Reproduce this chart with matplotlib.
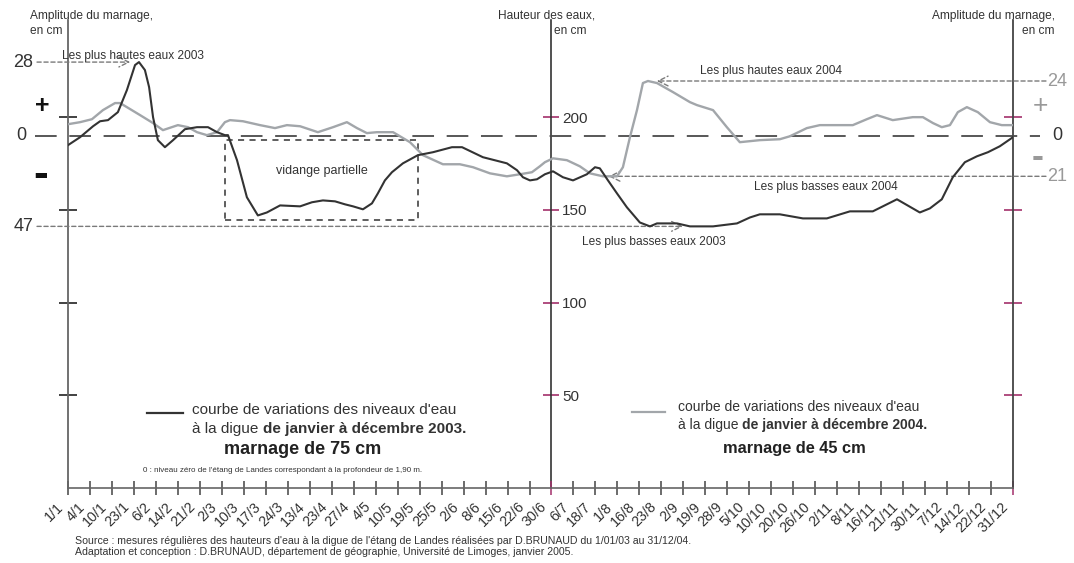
import matplotlib
matplotlib.use('Agg')
import matplotlib.pyplot as plt
import matplotlib.transforms as mtransforms
from matplotlib.patches import Rectangle
from matplotlib.lines import Line2D

plt.rcParams['font.family'] = ['Liberation Sans', 'DejaVu Sans']

# ---------------- data ----------------
dates = ["1/1", "4/1", "10/1", "23/1", "6/2", "14/2", "21/2", "2/3", "10/3", "17/3",
         "24/3", "13/4", "23/4", "27/4", "4/5", "10/5", "19/5", "25/5", "2/6", "8/6",
         "15/6", "22/6", "30/6", "6/7", "18/7", "1/8", "16/8", "23/8", "2/9", "19/9",
         "28/9", "5/10", "10/10", "20/10", "26/10", "2/11", "8/11", "16/11", "21/11",
         "30/11", "7/12", "14/12", "22/12", "31/12"]

# x positions expressed in date-tick index units, y = water height (cm)
x2003 = [0, 0.55, 1.14, 1.46, 1.82, 2.27, 2.68, 3.05, 3.23, 3.5, 3.69, 3.87, 4.09, 4.41,
         4.78, 5.32, 5.87, 6.37, 6.78, 7.14, 7.28, 7.69, 8.14, 8.64, 9.05, 9.65, 10.56,
         11.1, 11.6, 12.15, 12.6, 12.97, 13.42, 13.83, 14.1, 14.42, 14.74, 15.24, 15.92,
         16.61, 17.47, 17.93, 18.88, 19.97, 20.43, 20.7, 21.02, 21.34, 21.7, 22.07, 22.52,
         22.98, 23.61, 23.98, 24.2, 24.57, 24.98, 25.43, 26.02, 26.48, 26.8, 27.71, 28.3,
         29.35, 30.44, 31.03, 31.48, 32.39, 33.44, 34.53, 35.58, 36.62, 37.72, 38.76,
         39.22, 39.76, 40.26, 40.81, 41.36, 41.86, 42.4, 43]
h2003 = [184.9, 189.2, 195.1, 197.8, 198.4, 202.7, 214.6, 228.1, 229.7, 225.4, 216.2,
         200.0, 187.6, 183.8, 187.6, 193.5, 194.6, 194.6, 191.9, 190.3, 190.3, 176.8,
         156.8, 147.0, 148.6, 152.4, 151.9, 154.1, 155.1, 154.6, 153.0, 151.9, 150.3,
         153.5, 158.9, 165.9, 170.3, 175.1, 179.5, 181.1, 183.8, 183.8, 178.4, 175.1,
         171.4, 167.6, 165.9, 166.5, 169.2, 170.8, 167.6, 165.9, 169.2, 173.0, 172.4,
         165.9, 158.9, 151.4, 143.2, 141.1, 142.7, 142.7, 141.1, 141.1, 142.7, 145.9,
         147.6, 147.6, 145.4, 145.4, 149.2, 149.2, 155.7, 148.6, 150.8, 155.7, 167.6,
         175.7, 178.9, 181.1, 184.3, 189.2]

x2004 = [0, 0.55, 1.09, 1.59, 2.14, 2.37, 2.68, 3.28, 3.87, 4.32, 5.0, 5.46, 5.87, 6.32,
         6.78, 7.14, 7.37, 7.96, 8.74, 9.42, 9.96, 10.56, 11.37, 12.06, 12.69, 13.15, 13.6,
         14.06, 14.79, 15.56, 16.15, 17.06, 17.83, 18.43, 19.2, 19.97, 20.56, 21.11, 21.47,
         21.7, 22.07, 22.7, 23.29, 23.75, 24.34, 24.98, 25.25, 25.57, 25.89, 26.16, 26.39,
         26.8, 27.53, 28.3, 28.62, 29.35, 29.98, 30.57, 31.48, 32.39, 32.85, 33.62, 34.21,
         35.71, 36.35, 36.81, 37.53, 38.44, 38.9, 39.36, 39.76, 40.13, 40.49, 40.9, 41.4,
         41.95, 42.49, 43]
h2004 = [196.2, 197.3, 198.9, 203.8, 207.6, 207.6, 205.4, 201.1, 196.8, 193.0, 195.7,
         194.6, 191.9, 190.3, 191.9, 197.3, 198.4, 197.8, 195.7, 194.1, 195.7, 195.1,
         191.9, 194.6, 197.3, 194.1, 191.4, 191.9, 191.9, 186.5, 179.5, 174.6, 174.6,
         173.0, 169.7, 168.1, 169.2, 170.3, 173.5, 175.7, 177.8, 176.8, 173.5, 169.7,
         168.1, 168.1, 173.0, 189.2, 203.8, 218.4, 219.5, 218.4, 213.5, 208.1, 206.5,
         203.8, 194.6, 186.5, 187.6, 188.1, 189.7, 194.1, 195.7, 195.7, 198.9, 201.1,
         198.4, 200.0, 200.0, 196.8, 194.6, 195.7, 202.7, 205.4, 202.7, 197.3, 195.7, 195.7]

zero_level = 190          # niveau zéro = 1,90 m
height_ticks = [50, 100, 150, 200]
amp_2003 = ["28", "47"]
amp_2004 = ["24", "21"]
vidange_x = (7.14, 15.92)
vidange_h = (144.3, 187.6)

# ---------------- figure ----------------
W, H = 1074, 563
fig = plt.figure(figsize=(W / 100, H / 100), dpi=100)
ax = fig.add_axes([68 / W, 75 / H, 945 / W, 468 / H])
ax.set_xlim(0, len(dates) - 1)
ax.set_ylim(0, 252.4)

DARK = '#333333'
GREY = '#a2a6aa'
PINK = '#a3306b'
REF = '#7a7a7a'


def fx(px):
    return px / W


def fy(py):
    return 1 - py / H


fig_x_data_y = mtransforms.blended_transform_factory(fig.transFigure, ax.transData)

ax.plot(x2003, h2003, color=DARK, lw=1.5, solid_joinstyle='round', zorder=5)
ax.plot(x2004, h2004, color=GREY, lw=1.7, solid_joinstyle='round', zorder=4)

# zero line (long dashes)
ax.axhline(zero_level, xmin=(35 - 68) / 945, xmax=(1040 - 68) / 945, clip_on=False,
           color='#4a4a4a', lw=1.3, dashes=(12, 7), zorder=3)

# spines
ax.spines['top'].set_visible(False)
ax.spines['left'].set_color('#666666')
ax.spines['left'].set_linewidth(1.3)
ax.spines['right'].set_color('#444444')
ax.spines['right'].set_linewidth(1.3)
ax.spines['bottom'].set_color('#666666')
ax.spines['bottom'].set_linewidth(1.2)

# y ticks on outer axes
ax.set_yticks(height_ticks)
ax.yaxis.set_ticks_position('both')
ax.tick_params(axis='y', direction='inout', length=13, width=1.2,
               labelleft=False, labelright=False)
for t in ax.yaxis.get_major_ticks():
    t.tick1line.set_markeredgecolor('#222222')
    t.tick2line.set_markeredgecolor(PINK)

# x ticks
ax.set_xticks(range(len(dates)))
ax.set_xticklabels(dates, rotation=45, ha='right', va='center',
                   rotation_mode='anchor', fontsize=10.3, color=DARK)
ax.tick_params(axis='x', direction='inout', length=10, width=1.1, color='#444444', pad=7)
offset = mtransforms.ScaledTranslation(-7 / 100, 0, fig.dpi_scale_trans)
for lab in ax.get_xticklabels():
    lab.set_transform(lab.get_transform() + offset)
xt = ax.xaxis.get_major_ticks()
xt[22].tick1line.set_markeredgecolor(PINK)
xt[-1].tick1line.set_markeredgecolor(PINK)

# middle axis (hauteur des eaux)
mid = ax.secondary_yaxis(22 / 43)
mid.set_yticks(height_ticks)
mid.tick_params(direction='inout', length=11, width=1.2, color=PINK,
                labelsize=11, labelcolor=DARK, pad=2)
for s in ['left', 'right']:
    mid.spines[s].set_color('#333333')
    mid.spines[s].set_linewidth(1.2)

# axis titles
fs_t = 8.6
fig.text(fx(30), fy(16), "Amplitude du marnage,", fontsize=fs_t, color=DARK, va='center')
fig.text(fx(30), fy(31), "en cm", fontsize=fs_t, color=DARK, va='center')
fig.text(fx(595), fy(16), "Hauteur des eaux,", fontsize=fs_t, color=DARK, va='center', ha='right')
fig.text(fx(587), fy(31), "en cm", fontsize=fs_t, color=DARK, va='center', ha='right')
fig.text(fx(1055), fy(16), "Amplitude du marnage,", fontsize=fs_t, color=DARK, va='center', ha='right')
fig.text(fx(1054), fy(31), "en cm", fontsize=fs_t, color=DARK, va='center', ha='right')

# reference levels
hi03, lo03 = max(h2003), min(h2003)
hi04, lo04 = max(h2004), min(h2004)
x_hi03 = x2003[h2003.index(hi03)]
x_hi04 = x2004[h2004.index(hi04)]

ap = dict(arrowstyle='->,head_length=0.7,head_width=0.35', linestyle=(0, (3, 2)),
          color=REF, lw=1.0, shrinkA=0, shrinkB=0)
ax.annotate('', xy=(x_hi03 - 0.4, hi03), xytext=(-1.41, hi03), arrowprops=ap,
            annotation_clip=False)
ax.annotate('', xy=(27.98, lo03), xytext=(-1.41, lo03), arrowprops=ap,
            annotation_clip=False)
ax.annotate('', xy=(x_hi04 + 0.4, hi04), xytext=(44.5, hi04), arrowprops=ap,
            annotation_clip=False)
ax.annotate('', xy=(24.6, lo04), xytext=(44.5, lo04), arrowprops=ap,
            annotation_clip=False)

fs_ann = 8.6
fig.text(fx(62), fy(56), "Les plus hautes eaux 2003", fontsize=fs_ann, color=DARK, va='center')
fig.text(fx(700), fy(71), "Les plus hautes eaux 2004", fontsize=fs_ann, color=DARK, va='center')
fig.text(fx(754), fy(187), "Les plus basses eaux 2004", fontsize=fs_ann, color=DARK, va='center')
fig.text(fx(582), fy(242), "Les plus basses eaux 2003", fontsize=fs_ann, color=DARK, va='center')

# amplitude labels (left, 2003)
ax.text(fx(33), hi03, amp_2003[0], transform=fig_x_data_y, fontsize=13, color=DARK,
        ha='right', va='center')
ax.text(fx(33), lo03, amp_2003[1], transform=fig_x_data_y, fontsize=13, color=DARK,
        ha='right', va='center')
ax.text(fx(26), zero_level, "0", transform=fig_x_data_y, fontsize=13, color=DARK,
        ha='right', va='center')
fig.text(fx(42), fy(106), "+", fontsize=18, fontweight='bold', color='#111111',
         ha='center', va='center')
fig.text(fx(41), fy(176), "-", fontsize=32, fontweight='bold', color='#111111',
         ha='center', va='center')

# amplitude labels (right, 2004)
ax.text(fx(1047), hi04, amp_2004[0], transform=fig_x_data_y, fontsize=13, color='#999999',
        ha='left', va='center')
ax.text(fx(1047), lo04, amp_2004[1], transform=fig_x_data_y, fontsize=13, color='#999999',
        ha='left', va='center')
ax.text(fx(1052), zero_level, "0", transform=fig_x_data_y, fontsize=13, color=DARK,
        ha='left', va='center')
fig.text(fx(1040), fy(106), "+", fontsize=19, color='#999999', ha='center', va='center')
fig.text(fx(1038), fy(157), "-", fontsize=26, fontweight='bold', color='#999999',
         ha='center', va='center')

# vidange partielle box
ax.add_patch(Rectangle((vidange_x[0], vidange_h[0]), vidange_x[1] - vidange_x[0],
                       vidange_h[1] - vidange_h[0], fill=False, edgecolor='#333333',
                       lw=1.1, linestyle=(0, (4, 3.5)), zorder=2))
ax.text((vidange_x[0] + vidange_x[1]) / 2, 171, "vidange partielle", fontsize=9,
        color=DARK, ha='center', va='center')

# legends
fig.add_artist(Line2D([fx(147), fx(183)], [fy(413), fy(413)], color=DARK, lw=1.6))
fig.text(fx(192), fy(410), "courbe de variations des niveaux d'eau", fontsize=11,
         color=DARK, va='center')
t1 = fig.text(fx(192), fy(429), "à la digue ", fontsize=11, color=DARK, va='center')
ax.annotate("de janvier à décembre 2003.", xy=(1, 0.5), xycoords=t1, fontsize=11,
            fontweight='bold', color=DARK, va='center', ha='left')
fig.text(fx(303), fy(450), "marnage de 75 cm", fontsize=13, fontweight='bold',
         color='#222222', ha='center', va='center')
fig.text(fx(143), fy(471),
         "0 : niveau zéro de l'étang de Landes correspondant à la profondeur de 1,90 m.",
         fontsize=5.8, color=DARK, va='center')

fig.add_artist(Line2D([fx(632), fx(665)], [fy(412), fy(412)], color=GREY, lw=1.6))
fig.text(fx(678), fy(407), "courbe de variations des niveaux d'eau", fontsize=10,
         color=DARK, va='center')
t2 = fig.text(fx(678), fy(425), "à la digue ", fontsize=10, color=DARK, va='center')
ax.annotate("de janvier à décembre 2004.", xy=(1, 0.5), xycoords=t2, fontsize=10,
            fontweight='bold', color=DARK, va='center', ha='left')
fig.text(fx(794), fy(449), "marnage de 45 cm", fontsize=11.8, fontweight='bold',
         color='#222222', ha='center', va='center')

# sources
fig.text(fx(75), fy(541),
         "Source : mesures régulières des hauteurs d'eau à la digue de l'étang de Landes "
         "réalisées par D.BRUNAUD du 1/01/03 au 31/12/04.",
         fontsize=7.6, color=DARK, va='center')
fig.text(fx(75), fy(552),
         "Adaptation et conception : D.BRUNAUD, département de géographie, "
         "Université de Limoges, janvier 2005.",
         fontsize=7.6, color=DARK, va='center')

fig.savefig('out.png', dpi=100)
